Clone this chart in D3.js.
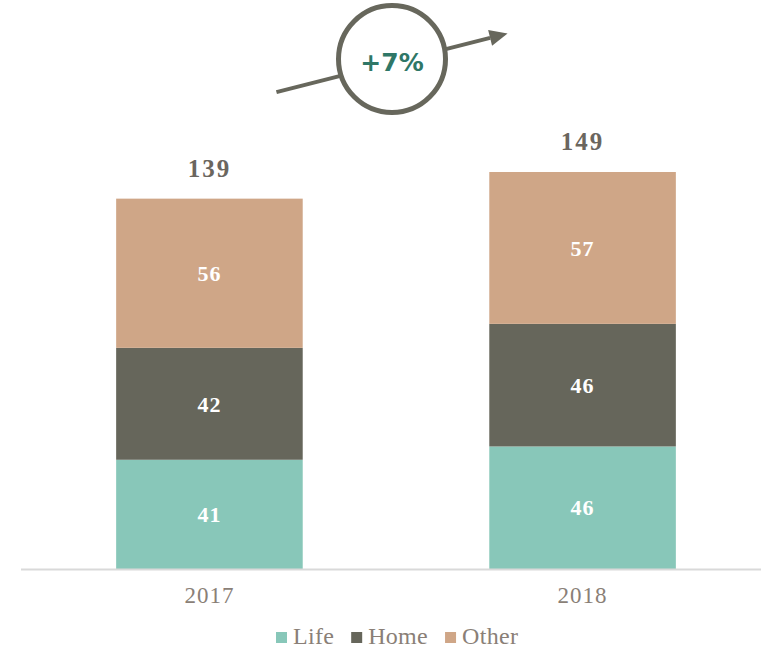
<!DOCTYPE html>
<html>
<head>
<meta charset="utf-8">
<script src="https://cdnjs.cloudflare.com/ajax/libs/d3/7.8.5/d3.min.js"></script>
<style>
  html, body { margin: 0; padding: 0; background: #fff; }
  svg { display: block; }
  .seg-label { font-family: "Liberation Serif", serif; font-weight: bold; font-size: 22px; fill: #fff; letter-spacing: 1px; }
  .total-label { font-family: "Liberation Serif", serif; font-weight: bold; font-size: 25px; fill: #6b665e; letter-spacing: 2px; }
  .tick-label { font-family: "Liberation Serif", serif; font-size: 23px; fill: #8a7f77; letter-spacing: 1px; }
  .legend-label { font-family: "Liberation Serif", serif; font-size: 24px; fill: #8a7f77; letter-spacing: 0.3px; }
  .growth-label { font-family: "DejaVu Sans", sans-serif; font-weight: bold; font-size: 25px; fill: #2f7767; }
</style>
</head>
<body>
<div id="chart"></div>
<script>
// --- Data ---
const YEARS = ['2017', '2018'];
const SERIES = ['Life', 'Home', 'Other'];
const LIFE = [41, 46];
const HOME = [42, 46];
const OTHER = [56, 57];
const GROWTH_LABEL = '+7%';

const COLORS = { Life: '#88c7b9', Home: '#66665b', Other: '#cfa687' };
const ARROW_COLOR = '#67675c';

// --- Layout ---
const W = 761, H = 648;
const baseY = 569;

const svg = d3.select('#chart').append('svg')
    .attr('width', W)
    .attr('height', H);

const rows = YEARS.map((year, i) => ({ year, Life: LIFE[i], Home: HOME[i], Other: OTHER[i] }));
const totals = rows.map(d => d.Life + d.Home + d.Other);

const xScale = d3.scaleBand().domain(YEARS).range([21, 771]).paddingInner(0.5).paddingOuter(0.255);
const yScale = d3.scaleLinear().domain([0, d3.max(totals)]).range([baseY, 172]);

const stacked = d3.stack().keys(SERIES)(rows);

// Bars
stacked.forEach(layer => {
    svg.append('g').selectAll('rect')
        .data(layer)
        .join('rect')
        .attr('x', d => xScale(d.data.year))
        .attr('y', d => yScale(d[1]))
        .attr('width', xScale.bandwidth())
        .attr('height', d => yScale(d[0]) - yScale(d[1]))
        .attr('fill', COLORS[layer.key]);

    svg.append('g').selectAll('text')
        .data(layer)
        .join('text')
        .attr('class', 'seg-label')
        .attr('x', d => xScale(d.data.year) + xScale.bandwidth() / 2)
        .attr('y', d => (yScale(d[0]) + yScale(d[1])) / 2)
        .attr('dy', '0.35em')
        .attr('text-anchor', 'middle')
        .text(d => d[1] - d[0]);
});

// Totals
svg.append('g').selectAll('text')
    .data(rows)
    .join('text')
    .attr('class', 'total-label')
    .attr('x', (d, i) => xScale(d.year) + xScale.bandwidth() / 2)
    .attr('y', (d, i) => yScale(totals[i]) - 22)
    .attr('text-anchor', 'middle')
    .text((d, i) => totals[i]);

// Axis line
svg.append('line')
    .attr('x1', 21).attr('x2', W)
    .attr('y1', baseY + 0.5).attr('y2', baseY + 0.5)
    .attr('stroke', '#d9d9d9').attr('stroke-width', 2);

// Year labels
svg.append('g').selectAll('text')
    .data(YEARS)
    .join('text')
    .attr('class', 'tick-label')
    .attr('x', d => xScale(d) + xScale.bandwidth() / 2)
    .attr('y', baseY + 34)
    .attr('text-anchor', 'middle')
    .text(d => d);

// --- Growth arrow ---
const c0 = xScale(YEARS[0]) + xScale.bandwidth() / 2;
const c1 = xScale(YEARS[1]) + xScale.bandwidth() / 2;
const ax0 = c0 + 67, ay0 = yScale(179);
const ax1 = c1 - 75, ay1 = yScale(201);
const ang = Math.atan2(ay1 - ay0, ax1 - ax0);
const headLen = 18, headHalf = 8;
const bx = ax1 - headLen * Math.cos(ang), by = ay1 - headLen * Math.sin(ang);

svg.append('line')
    .attr('x1', ax0).attr('y1', ay0)
    .attr('x2', bx).attr('y2', by)
    .attr('stroke', ARROW_COLOR).attr('stroke-width', 4);

svg.append('path')
    .attr('d', d3.line()([
        [ax1, ay1],
        [bx - headHalf * Math.sin(ang), by + headHalf * Math.cos(ang)],
        [bx + headHalf * Math.sin(ang), by - headHalf * Math.cos(ang)]
    ]) + 'Z')
    .attr('fill', ARROW_COLOR);

const cx = (c0 + c1) / 2 - 4, cy = 59;
svg.append('circle')
    .attr('cx', cx).attr('cy', cy).attr('r', 53.5)
    .attr('fill', '#fff')
    .attr('stroke', ARROW_COLOR).attr('stroke-width', 5);

svg.append('text')
    .attr('class', 'growth-label')
    .attr('x', cx).attr('y', cy + 3)
    .attr('dy', '0.35em')
    .attr('text-anchor', 'middle')
    .text(GROWTH_LABEL);

// --- Legend ---
const legend = svg.append('g');
let lx = 276;
SERIES.forEach(key => {
    legend.append('rect')
        .attr('x', lx).attr('y', 632)
        .attr('width', 11).attr('height', 11)
        .attr('fill', COLORS[key]);
    const t = legend.append('text')
        .attr('class', 'legend-label')
        .attr('x', lx + 17).attr('y', 644)
        .text(key);
    lx += 17 + t.node().getComputedTextLength() + 17;
});
</script>
</body>
</html>
